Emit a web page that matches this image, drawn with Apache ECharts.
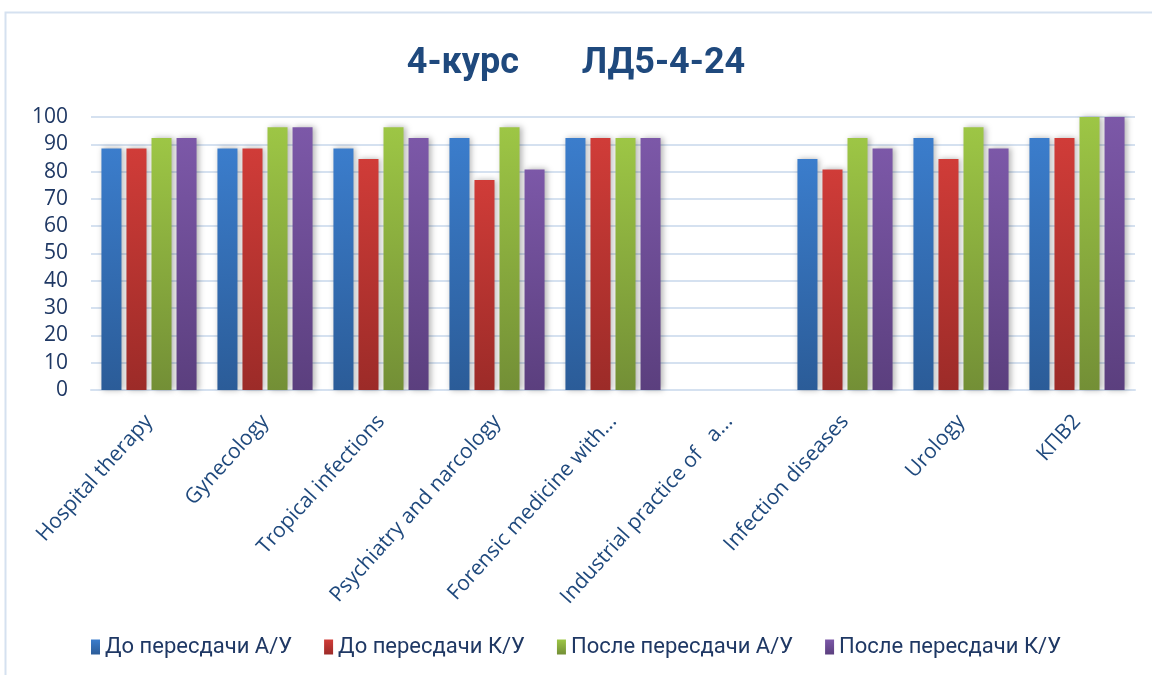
<!DOCTYPE html>
<html><head><meta charset="utf-8">
<script src="https://cdn.jsdelivr.net/npm/echarts@6/dist/echarts.min.js"></script>
<style>html,body{margin:0;padding:0;background:#fff}#c{width:1152px;height:675px}</style>
</head><body><div id="c"></div>
<script>
const categories = ['Hospital therapy','Gynecology','Tropical infections','Psychiatry and narcology','Forensic medicine with...','Industrial practice of   a...','Infection diseases','Urology','КПВ2'];
const seriesNames = ['До пересдачи А/У','До пересдачи К/У','После пересдачи А/У','После пересдачи К/У'];
const beforeAU = [88.5, 88.5, 88.5, 92.3, 92.3, null, 84.6, 92.3, 92.3];
const beforeKU = [88.5, 88.5, 84.6, 76.9, 92.3, null, 80.8, 84.6, 92.3];
const afterAU  = [92.3, 96.2, 96.2, 96.2, 92.3, null, 92.3, 96.2, 100];
const afterKU  = [92.3, 96.2, 92.3, 80.8, 92.3, null, 88.5, 88.5, 100];
const yTicks = [0,10,20,30,40,50,60,70,80,90,100];

const colors = [['#3B7DCC','#2B5C98'],['#D03C38','#9C2B28'],['#9DC645','#738F36'],['#7C58A8','#5B3F7E']];
function grad(c){return new echarts.graphic.LinearGradient(0,0,0,1,[{offset:0,color:c[0]},{offset:1,color:c[1]}]);}
const datas = [beforeAU, beforeKU, afterAU, afterKU];
const chart = echarts.init(document.getElementById('c'));
chart.setOption({
  animation:false,
  title:{text:'4-курс       ЛД5-4-24',left:'center',top:41,textStyle:{fontFamily:'Roboto',fontWeight:'bold',fontSize:36,color:'#1F497D'}},
  graphic:[{type:'rect',shape:{x:5.5,y:12.5,width:1160,height:680},style:{fill:'none',stroke:'#D5E1F0',lineWidth:2}}],
  legend:{bottom:12,left:'center',itemWidth:9,itemHeight:15,itemGap:32,icon:'rect',
    textStyle:{fontFamily:'Roboto',fontSize:22,color:'#1F3864'},
    data:seriesNames.map((n,i)=>({name:n,itemStyle:{color:grad(colors[i])}}))},
  grid:{left:91,right:17,top:117,bottom:285},
  xAxis:{type:'category',data:categories,
    axisLine:{lineStyle:{color:'#D5E1F0',width:2}},axisTick:{show:false},
    axisLabel:{interval:0,rotate:48,fontFamily:'Open Sans',fontSize:21,color:'#1F497D',margin:28}},
  yAxis:{type:'value',min:0,max:100,interval:10,
    axisLine:{show:false},axisTick:{show:false},
    splitLine:{lineStyle:{color:'#D5E1F0',width:2}},
    axisLabel:{fontFamily:'Open Sans',fontSize:21,color:'#1F3864',margin:23,
      formatter:v=>yTicks.includes(v)?String(v):''}},
  series:datas.map((d,i)=>({name:seriesNames[i],type:'bar',data:d,barGap:'25%',barCategoryGap:'18%',
    itemStyle:{color:grad(colors[i]),shadowBlur:6,shadowColor:'rgba(0,0,0,0.3)',shadowOffsetX:2,shadowOffsetY:0}}))
});
</script></body></html>
